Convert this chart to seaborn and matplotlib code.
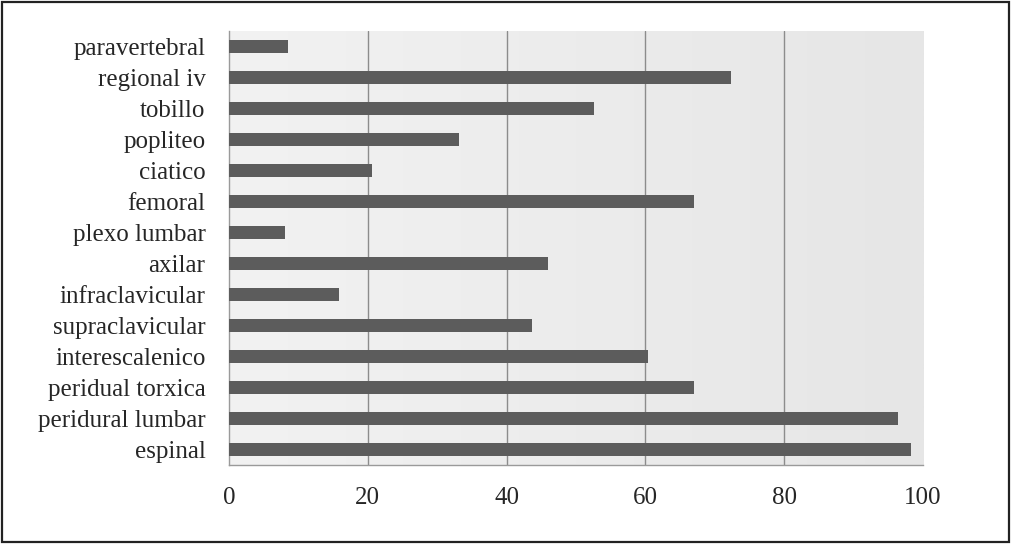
import numpy as np
import pandas as pd
import seaborn as sns
import matplotlib.pyplot as plt
from matplotlib.patches import Rectangle
from matplotlib.colors import LinearSegmentedColormap

categories = ['paravertebral', 'regional iv', 'tobillo', 'popliteo', 'ciatico',
              'femoral', 'plexo lumbar', 'axilar', 'infraclavicular',
              'supraclavicular', 'interescalenico', 'peridual torxica',
              'peridural lumbar', 'espinal']
values = [8.5, 72.3, 52.6, 33.1, 20.6, 67.0, 8.1, 46.0, 15.9, 43.7, 60.4, 67.0, 96.4, 98.3]
x_ticks = [0, 20, 40, 60, 80, 100]

df = pd.DataFrame({'bloqueo': categories, 'valor': values})

sns.set_style('white')
plt.rcParams['font.family'] = ['Liberation Serif', 'DejaVu Serif']

fig = plt.figure(figsize=(10.11, 5.44), dpi=100)
ax = fig.add_axes([0.2265, 0.1452, 0.913 - 0.2265, 0.943 - 0.1452])

sns.barplot(data=df, x='valor', y='bloqueo', order=categories, color='#5c5c5c',
            width=0.45, saturation=1, linewidth=0, ax=ax, zorder=3)

n = len(categories)
ax.set_xlim(0, 100)
ax.set_ylim(n - 0.5, -0.5)

# soft horizontal gradient behind the bars
grad = np.linspace(0, 1, 256).reshape(1, -1)
bg = LinearSegmentedColormap.from_list('bg', ['#f2f2f2', '#e6e6e6'])
ax.imshow(grad, extent=[0, 100, n - 0.5, -0.5], aspect='auto', zorder=0, cmap=bg)

for xv in x_ticks[1:-1]:
    ax.axvline(xv, color='#8c8c8c', linewidth=1.0, zorder=1)

for side in ['top', 'right']:
    ax.spines[side].set_visible(False)
for side in ['left', 'bottom']:
    ax.spines[side].set_color('#9a9a9a')
    ax.spines[side].set_linewidth(1.0)

ax.set_xticks(x_ticks)
ax.set_xticklabels([str(t) for t in x_ticks], fontsize=18)
ax.tick_params(axis='x', length=6, color='#9a9a9a', pad=10)

ax.set_yticks(range(n))
ax.set_yticklabels(categories, fontsize=18)
ax.set_yticks(np.arange(-0.5, n, 1.0), minor=True)
ax.tick_params(axis='y', which='major', length=0, pad=17)
ax.tick_params(axis='y', which='minor', length=6, color='#9a9a9a')

ax.set_xlabel('')
ax.set_ylabel('')

fig.patches.append(Rectangle((0.002, 0.004), 0.996, 0.992, transform=fig.transFigure,
                             fill=False, edgecolor='#222222', linewidth=1.6))

plt.savefig('out.png', dpi=100)
